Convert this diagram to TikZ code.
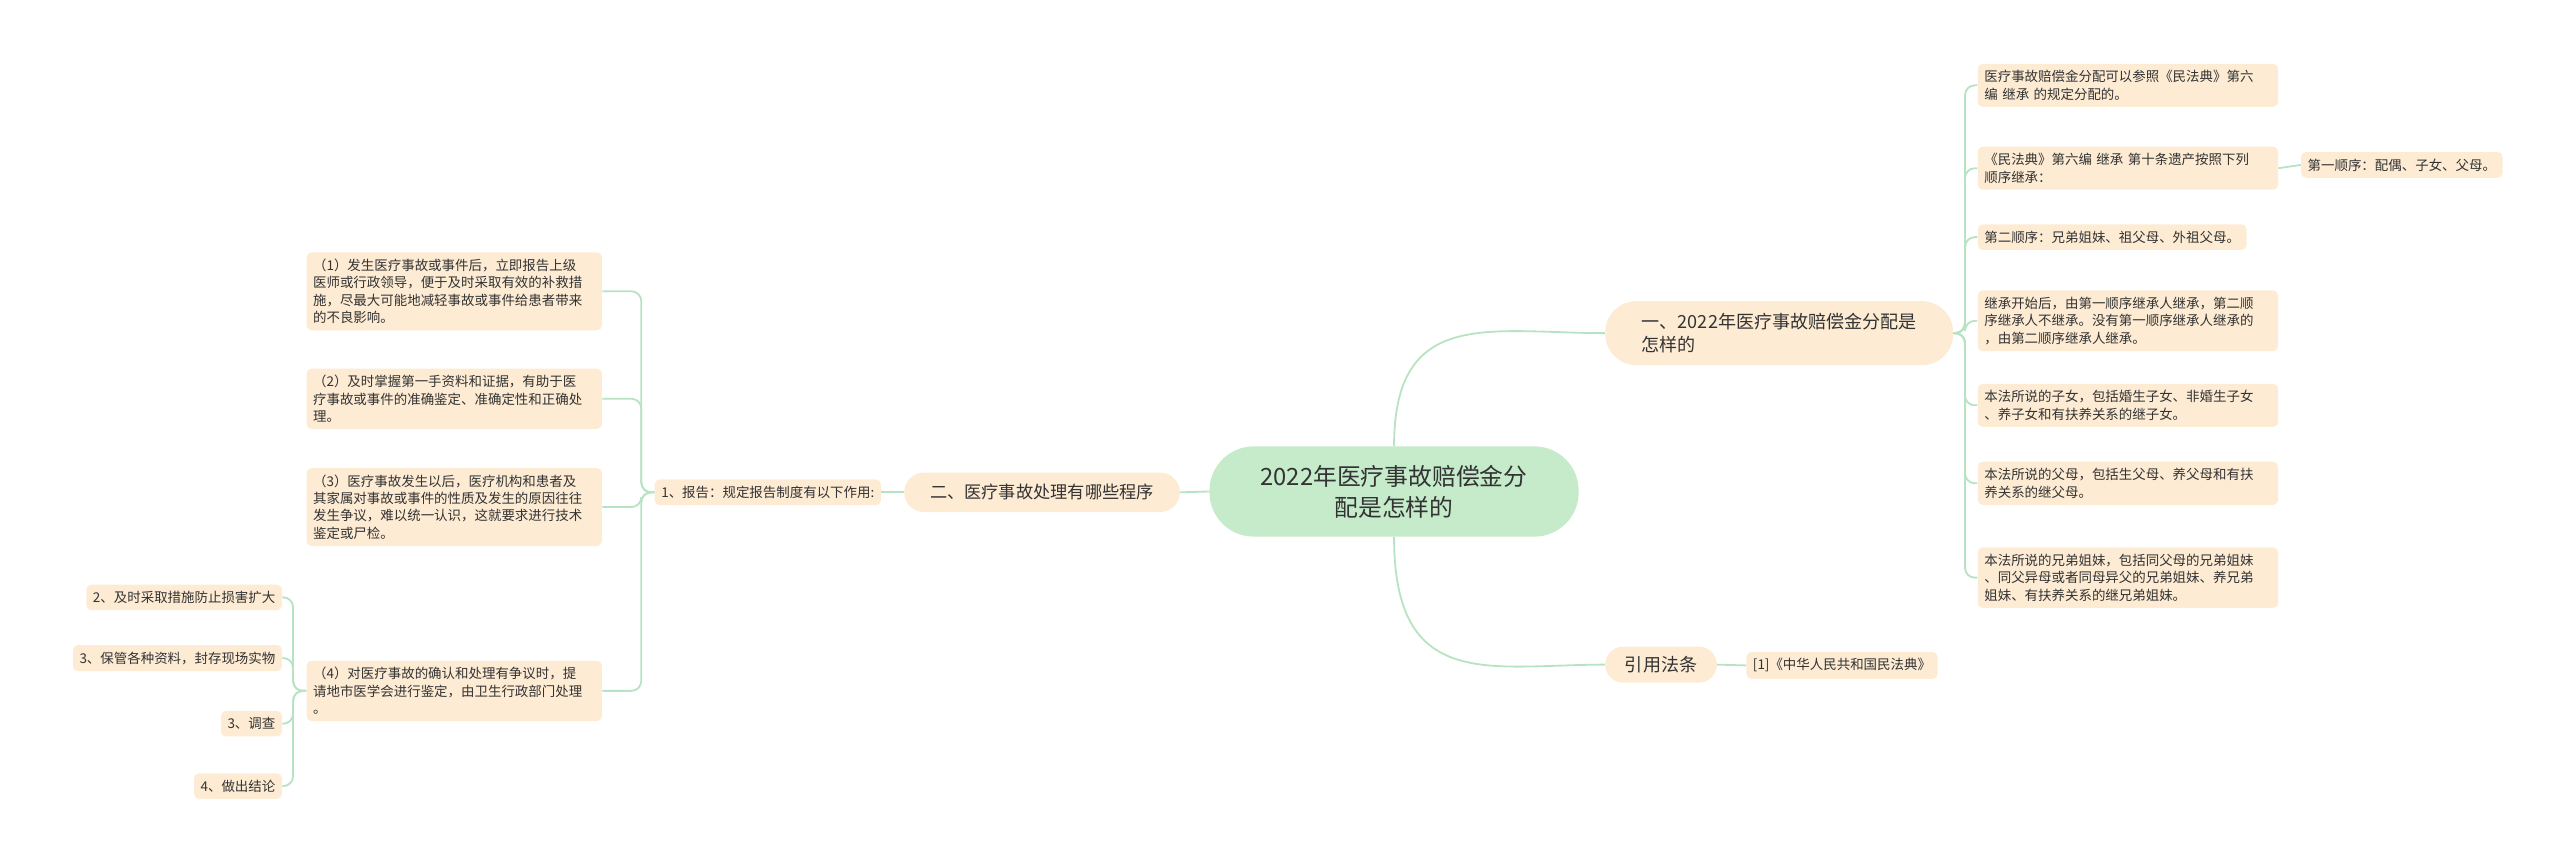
\documentclass[tikz,border=0pt]{standalone}
\usepackage{fontspec}
\setmainfont{Noto Sans CJK SC}
\definecolor{peach}{HTML}{FDEBD3}
\definecolor{mint}{HTML}{C5EBCB}
\definecolor{lnc}{HTML}{B8E3C2}
\definecolor{txt}{HTML}{333333}
\tikzset{
 leaf/.style={fill=peach,rounded corners=3pt,inner xsep=4pt,inner ysep=4pt,align=left,text=txt,font=\fontsize{8.2}{10.6}\selectfont},
 conn/.style={draw=lnc,line width=1.1pt},
 tree/.style={conn,rounded corners=6pt}
}
\begin{document}
\begin{tikzpicture}[x=1pt,y=-1pt]
\useasboundingbox (0,0) rectangle (1560,522);
% center
\node[fill=mint,rounded corners=27pt,minimum width=225pt,minimum height=55pt,align=center,text=txt,font=\fontsize{14.5}{19}\selectfont] (c) at (849.5,299.5) {2022年医疗事故赔偿金分\\配是怎样的};
% right branch 1
\node[fill=peach,rounded corners=19pt,minimum width=212pt,minimum height=39pt,align=left,text=txt,font=\fontsize{11}{14.5}\selectfont,anchor=west] (b1) at (978,203) {一、2022年医疗事故赔偿金分配是\\怎样的};
\node[fill=peach,rounded corners=11pt,minimum width=68pt,minimum height=22pt,text=txt,font=\fontsize{11}{14}\selectfont,anchor=west] (ref) at (978,405) {引用法条};
\node[leaf,anchor=west] (ref1) at (1064,405.5) {[1]《中华人民共和国民法典》};
% right column
\node[leaf,anchor=west,text width=175pt] (r1) at (1205,52) {医疗事故赔偿金分配可以参照《民法典》第六\\编 继承 的规定分配的。};
\node[leaf,anchor=west,text width=175pt] (r2) at (1205,102.5) {《民法典》第六编 继承 第十条遗产按照下列\\顺序继承：};
\node[leaf,anchor=west] (r2a) at (1402,100.5) {第一顺序：配偶、子女、父母。};
\node[leaf,anchor=west] (r3) at (1205,144.5) {第二顺序：兄弟姐妹、祖父母、外祖父母。};
\node[leaf,anchor=west,text width=175pt] (r4) at (1205,195.5) {继承开始后，由第一顺序继承人继承，第二顺\\序继承人不继承。没有第一顺序继承人继承的\\，由第二顺序继承人继承。};
\node[leaf,anchor=west,text width=175pt] (r5) at (1205,247) {本法所说的子女，包括婚生子女、非婚生子女\\、养子女和有扶养关系的继子女。};
\node[leaf,anchor=west,text width=175pt] (r6) at (1205,294.5) {本法所说的父母，包括生父母、养父母和有扶\\养关系的继父母。};
\node[leaf,anchor=west,text width=175pt] (r7) at (1205,352) {本法所说的兄弟姐妹，包括同父母的兄弟姐妹\\、同父异母或者同母异父的兄弟姐妹、养兄弟\\姐妹、有扶养关系的继兄弟姐妹。};
% left branch
\node[fill=peach,rounded corners=12pt,minimum width=168pt,minimum height=24pt,text=txt,font=\fontsize{10.5}{13}\selectfont] (b2) at (635,300) {二、医疗事故处理有哪些程序};
\node[leaf,anchor=east] (q) at (537,300) {1、报告：规定报告制度有以下作用:};
\node[leaf,anchor=east,text width=172pt] (p1) at (367,177.5) {（1）发生医疗事故或事件后，立即报告上级\\医师或行政领导，便于及时采取有效的补救措\\施，尽最大可能地减轻事故或事件给患者带来\\的不良影响。};
\node[leaf,anchor=east,text width=172pt] (p2) at (367,243) {（2）及时掌握第一手资料和证据，有助于医\\疗事故或事件的准确鉴定、准确定性和正确处\\理。};
\node[leaf,anchor=east,text width=172pt] (p3) at (367,309) {（3）医疗事故发生以后，医疗机构和患者及\\其家属对事故或事件的性质及发生的原因往往\\发生争议，难以统一认识，这就要求进行技术\\鉴定或尸检。};
\node[leaf,anchor=east,text width=172pt] (p4) at (367,421) {（4）对医疗事故的确认和处理有争议时，提\\请地市医学会进行鉴定，由卫生行政部门处理\\。};
\node[leaf,anchor=east] (l1) at (172,364) {2、及时采取措施防止损害扩大};
\node[leaf,anchor=east] (l2) at (172,401) {3、保管各种资料，封存现场实物};
\node[leaf,anchor=east] (l3) at (172,441) {3、调查};
\node[leaf,anchor=east] (l4) at (172,479) {4、做出结论};
% connectors
\draw[conn] (c.north) .. controls +(0,-85) and +(-70,0) .. (b1.west);
\draw[conn] (c.south) .. controls +(0,95) and +(-70,0) .. (ref.west);
\draw[conn] (ref.east) -- (ref1.west);
\draw[conn] (c.west) -- (b2.east);
\draw[conn] (b2.west) -- (q.east);
\draw[conn] (r2.east) -- (r2a.west);
\foreach \n in {r1,r2,r3,r4,r5,r6,r7}
  \draw[tree] (b1.east) -- ++(7,0) |- (\n.west);
\foreach \n in {p1,p2,p3,p4}
  \draw[tree] (q.west) -- ++(-8,0) |- (\n.east);
\foreach \n in {l1,l2,l3,l4}
  \draw[tree] (p4.west) -- ++(-8,0) |- (\n.east);
\end{tikzpicture}
\end{document}
